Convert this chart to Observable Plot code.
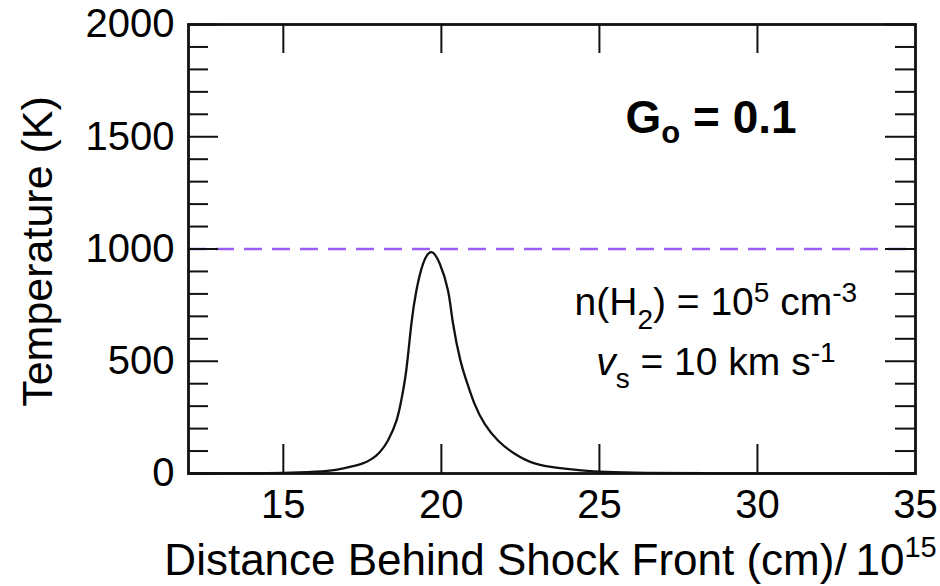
<!DOCTYPE html>
<html><head><meta charset="utf-8">
<script src="https://cdn.jsdelivr.net/npm/d3@7"></script>
<script src="https://cdn.jsdelivr.net/npm/@observablehq/plot@0.6"></script>
<style>html,body{margin:0;padding:0;background:#fff;}</style>
</head><body><div id="chart"></div>
<script>
// Data
const distance = [12, 13.5, 14.5, 15.5, 16.4, 16.94, 17.47, 17.8, 18.05, 18.31, 18.58, 18.73, 18.89, 19.05, 19.21, 19.42, 19.68, 19.95, 20.21, 20.37, 20.6, 20.8, 21.05, 21.37, 21.79, 22.32, 22.95, 23.69, 24.43, 25.2, 26.5, 28.5, 31, 35];
const temperature = [0, 0.5, 1.5, 5, 12, 24, 43, 65, 95, 147, 236, 325, 460, 665, 815, 934, 986, 934, 815, 667, 505, 410, 310, 221, 147, 88, 45, 25, 14, 7, 3, 1, 0.3, 0];
const referenceTemperature = [1000];
const xTickLabels = [15, 20, 25, 30, 35];
const xTickMarks = [15, 20, 25, 30];
const yMajorTicks = [0, 500, 1000, 1500, 2000];
const yMinorTicks = [100, 200, 300, 400, 600, 700, 800, 900, 1100, 1200, 1300, 1400, 1600, 1700, 1800, 1900];
const xDomain = [12, 35];
const yDomain = [0, 2000];
const xTitle = "Distance Behind Shock Front (cm)/\u200910";
const xTitleExponent = "15";
const yTitle = "Temperature (K)";
// annotation anchor positions in data units
const annotX = [28.55, 28.7, 28.7];
const annotY = [1515, 704, 436];

const W = 940, H = 586;
const mL = 188, mR = 25, mT = 24, mB = 113;
const fw = W - mL - mR, fh = H - mT - mB;
const font = "'Liberation Sans', Arial, Helvetica, sans-serif";

const data = distance.map((d, i) => ({x: d, t: temperature[i]}));

const plot = Plot.plot({
  width: W, height: H,
  marginLeft: mL, marginRight: mR, marginTop: mT, marginBottom: mB,
  style: {fontFamily: font, fontSize: "40px", color: "#000", background: "#fff"},
  x: {domain: xDomain},
  y: {domain: yDomain},
  marks: [
    Plot.ruleY(referenceTemperature, {stroke: "#9d5cf5", strokeWidth: 2.5, strokeDasharray: "18,10"}),
    Plot.line(data, {x: "x", y: "t", curve: "natural", stroke: "#111", strokeWidth: 2.3}),
    // left ticks (inward)
    Plot.tickY(yMinorTicks, {y: d => d, insetRight: fw - 20, stroke: "#111", strokeWidth: 2}),
    Plot.tickY(yMajorTicks, {y: d => d, insetRight: fw - 30, stroke: "#111", strokeWidth: 2}),
    // right ticks (inward)
    Plot.tickY(yMinorTicks, {y: d => d, insetLeft: fw - 20, stroke: "#111", strokeWidth: 2}),
    Plot.tickY(yMajorTicks, {y: d => d, insetLeft: fw - 30, stroke: "#111", strokeWidth: 2}),
    // bottom and top ticks (inward)
    Plot.tickX(xTickMarks, {x: d => d, insetTop: fh - 29, stroke: "#111", strokeWidth: 2}),
    Plot.tickX(xTickMarks, {x: d => d, insetBottom: fh - 29, stroke: "#111", strokeWidth: 2}),
    Plot.axisX({ticks: xTickLabels, tickSize: 0, tickPadding: 16, label: null, tickFormat: d => String(d)}),
    Plot.axisY({ticks: yMajorTicks, tickSize: 0, tickPadding: 14, label: null, tickFormat: d => String(d)}),
    Plot.frame({stroke: "#111", strokeWidth: 2.8})
  ]
});

document.getElementById("chart").appendChild(plot);

const svg = d3.select(plot);
const sx = plot.scale("x"), sy = plot.scale("y");
const g = svg.append("g").attr("font-family", font).attr("fill", "#000");

// x title
const xt = g.append("text").attr("x", mL + fw / 2 - 1).attr("y", 575).attr("text-anchor", "middle").attr("font-size", 44);
xt.append("tspan").text(xTitle);
xt.append("tspan").attr("font-size", 29).attr("dy", -18).text(xTitleExponent);

// y title
g.append("text").attr("transform", `translate(52,${mT + fh / 2 + 3}) rotate(-90)`).attr("text-anchor", "middle").attr("font-size", 43).text(yTitle);

// G_o = 0.1
const a0 = g.append("text").attr("x", sx.apply(annotX[0])).attr("y", sy.apply(annotY[0])).attr("text-anchor", "middle").attr("font-size", 46).attr("font-weight", "bold");
a0.append("tspan").text("G");
a0.append("tspan").attr("font-size", 31).attr("dy", 10).text("o");
a0.append("tspan").attr("dy", -10).text(" = 0.1");

// n(H2) = 10^5 cm^-3
const a1 = g.append("text").attr("x", sx.apply(annotX[1])).attr("y", sy.apply(annotY[1])).attr("text-anchor", "middle").attr("font-size", 39);
a1.append("tspan").text("n(H");
a1.append("tspan").attr("font-size", 28).attr("dy", 14).text("2");
a1.append("tspan").attr("dy", -14).text(") = 10");
a1.append("tspan").attr("font-size", 28).attr("dy", -13).text("5");
a1.append("tspan").attr("dy", 13).text(" cm");
a1.append("tspan").attr("font-size", 28).attr("dy", -13).text("-3");

// v_s = 10 km s^-1
const a2 = g.append("text").attr("x", sx.apply(annotX[2])).attr("y", sy.apply(annotY[2])).attr("text-anchor", "middle").attr("font-size", 39);
a2.append("tspan").attr("font-style", "italic").text("v");
a2.append("tspan").attr("font-size", 28).attr("dy", 13).text("s");
a2.append("tspan").attr("dy", -13).text(" = 10 km s");
a2.append("tspan").attr("font-size", 28).attr("dy", -13).text("-1");
</script>
</body></html>
